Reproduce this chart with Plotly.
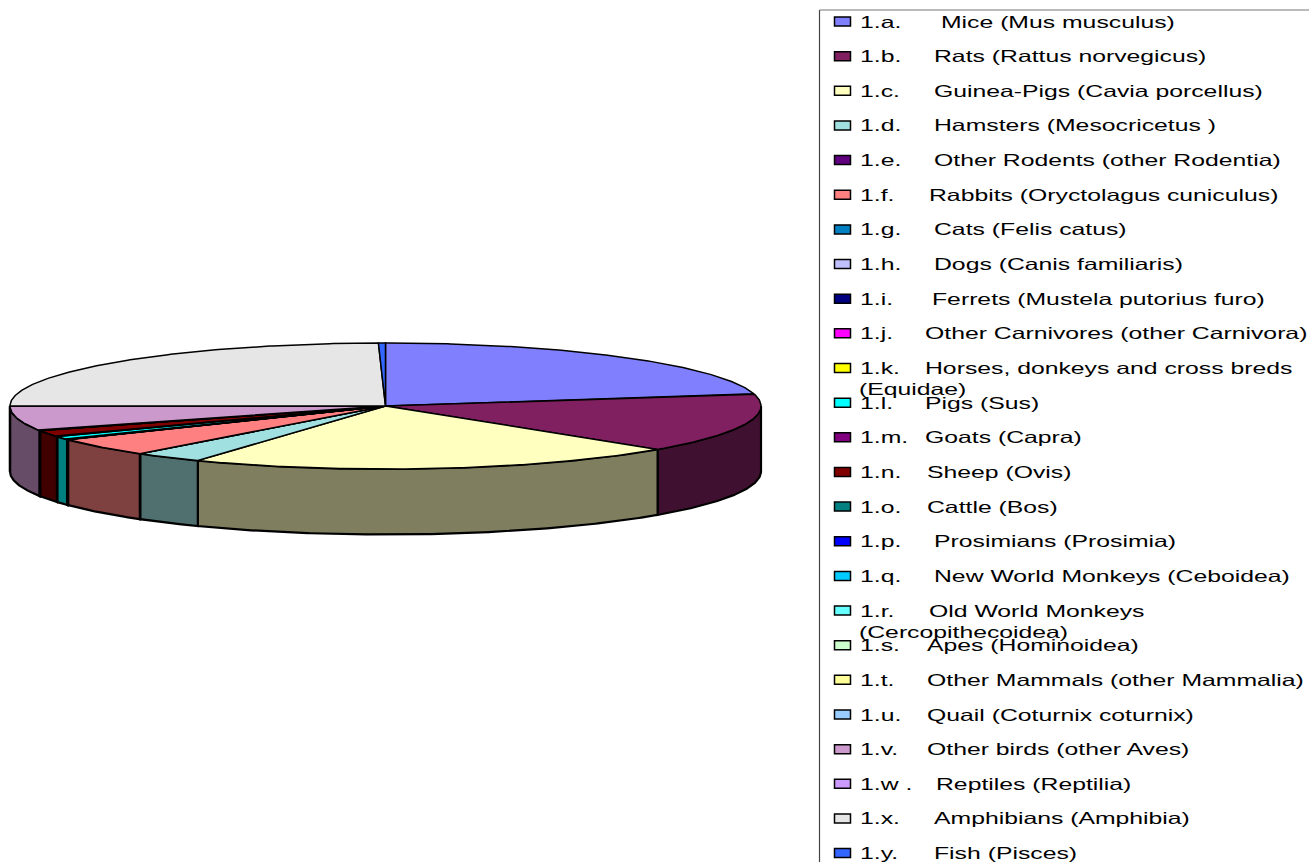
import numpy as np
import plotly.graph_objects as go

# ---- data -----
codes = ["1.a.","1.b.","1.c.","1.d.","1.e.","1.f.","1.g.","1.h.","1.i.","1.j.","1.k.","1.l.","1.m.",
         "1.n.","1.o.","1.p.","1.q.","1.r.","1.s.","1.t.","1.u.","1.v.","1.w .","1.x.","1.y."]
names = ["Mice (Mus musculus)","Rats (Rattus norvegicus)","Guinea-Pigs (Cavia porcellus)",
         "Hamsters (Mesocricetus )","Other Rodents (other Rodentia)","Rabbits (Oryctolagus cuniculus)",
         "Cats (Felis catus)","Dogs (Canis familiaris)","Ferrets (Mustela putorius furo)",
         "Other Carnivores (other Carnivora)","Horses, donkeys and cross breds","Pigs (Sus)",
         "Goats (Capra)","Sheep (Ovis)","Cattle (Bos)","Prosimians (Prosimia)",
         "New World Monkeys (Ceboidea)","Old World Monkeys","Apes (Hominoidea)",
         "Other Mammals (other Mammalia)","Quail (Coturnix coturnix)","Other birds (other Aves)",
         "Reptiles (Reptilia)","Amphibians (Amphibia)","Fish (Pisces)"]
wrapped = {10: "(Equidae)", 17: "(Cercopithecoidea)"}
values = [21.9,15.2,21.23,3.0,0.02,4.68,0.02,0.03,0.01,0.0,0.02,0.82,0.03,1.62,0.05,0.0,0.0,0.0,0.0,
          0.02,0.01,6.3,0.01,24.73,0.3]
colors = ["#8080FF","#802060","#FFFFC0","#A0E0E0","#600080","#FF8080","#0080C0","#C0C0FF","#000080",
          "#FF00FF","#FFFF00","#00FFFF","#800080","#800000","#008080","#0000FF","#00CCFF","#66FFFF",
          "#CCFFCC","#FFFF99","#99CCFF","#CC99CC","#CC99FF","#E6E6E6","#3366FF"]

# ---- layout constants -----
W, H = 1309, 862
CX, CY, A, B, DEPTH = 385.5, 406, 375.5, 63, 65.5
ROW0, ROW_STEP = 21.5, 34.65
NAME_X = [941,934,934,934,934,929,934,934,932,925,925,925,925,927,927,934,934,929,927,927,927,927,936,934,934]
FONT = dict(family="Liberation Sans, Arial, sans-serif", size=16.5, color="#000000")
STRETCH = 1.5

def darker(hexcol):
    r, g, b = int(hexcol[1:3],16), int(hexcol[3:5],16), int(hexcol[5:7],16)
    return f"rgb({r//2},{g//2},{b//2})"

def arc(t0, t1, dy=0.0):
    n = max(2, int(abs(t1 - t0) * 2) + 2)
    t = np.radians(np.linspace(t0, t1, n))
    return CX + A*np.sin(t), CY - B*np.cos(t) + dy

fig = go.Figure()
total = sum(values)
edges = np.concatenate([[0], np.cumsum(values)]) / total * 360

# side walls (front half only)
for i, v in enumerate(values):
    if v <= 0:
        continue
    t0, t1 = max(edges[i], 90), min(edges[i+1], 270)
    if t1 <= t0:
        continue
    xa, ya = arc(t0, t1)
    xb, yb = arc(t1, t0, DEPTH)
    fig.add_trace(go.Scatter(x=np.r_[xa, xb, xa[0]], y=np.r_[ya, yb, ya[0]], mode="lines", fill="toself",
                             fillcolor=darker(colors[i]), line=dict(color="#000000", width=2.2),
                             name=names[i], hoverinfo="name", showlegend=False))
# top faces
for i, v in enumerate(values):
    if v <= 0:
        continue
    xa, ya = arc(edges[i], edges[i+1])
    fig.add_trace(go.Scatter(x=np.r_[CX, xa, CX], y=np.r_[CY, ya, CY], mode="lines", fill="toself",
                             fillcolor=colors[i], line=dict(color="#000000", width=1.5),
                             name=names[i], hoverinfo="name", showlegend=False))

shapes = [
    dict(type="line", x0=819.5, x1=819.5, y0=10, y1=H, line=dict(color="#444444", width=1.2)),
    dict(type="line", x0=819.5, x1=W, y0=10, y1=10, line=dict(color="#777777", width=1.2)),
]
annotations = []
def label(x, y, text):
    annotations.append(dict(x=x - 2, y=y, text=text, xanchor="left", yanchor="middle", align="left",
                            showarrow=False, font=FONT, xref="x", yref="y"))
for i in range(len(codes)):
    y = ROW0 + ROW_STEP*i
    shapes.append(dict(type="rect", x0=834.5, x1=850.5, y0=y-4.5, y1=y+4.5, fillcolor=colors[i],
                       line=dict(color="#000000", width=1.5)))
    label(860, y, codes[i])
    label(NAME_X[i], y, names[i])
    if i in wrapped:
        label(858.5, y + 21, wrapped[i])

fig.update_layout(
    width=W, height=H, margin=dict(l=0, r=0, t=0, b=0),
    paper_bgcolor="white", plot_bgcolor="white", showlegend=False,
    xaxis=dict(range=[0, W], visible=False, fixedrange=True),
    yaxis=dict(range=[H, 0], visible=False, fixedrange=True),
    shapes=shapes, annotations=annotations,
)
post = """
document.body.style.margin='0';document.body.style.overflow='hidden';
document.querySelectorAll('.annotation-text').forEach(function(t){
  var l=t.getComputedTextLength();
  t.setAttribute('textLength', l*%s);
  t.setAttribute('lengthAdjust','spacingAndGlyphs');
});
""" % STRETCH
fig.write_html("out.html", config=dict(displayModeBar=False), post_script=post)
